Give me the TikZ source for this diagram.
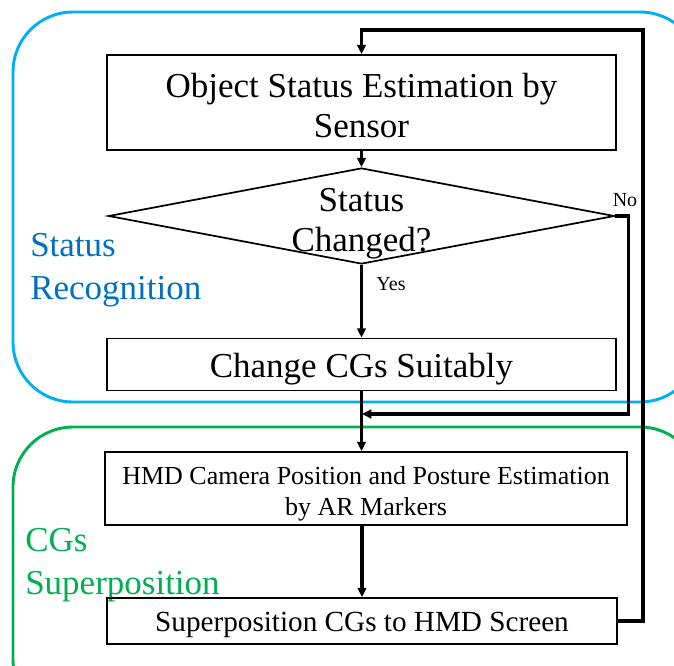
\documentclass[tikz,border=0pt]{standalone}
\usepackage{fontspec}
\setmainfont{Liberation Serif}
\usetikzlibrary{arrows.meta,shapes.geometric}
\definecolor{recogblue}{RGB}{0,176,240}
\definecolor{recogtext}{RGB}{0,112,192}
\definecolor{superpgreen}{RGB}{0,176,80}

\begin{document}
\begin{tikzpicture}[x=0.75pt,y=-0.75pt,
  stepbox/.style={draw, rectangle, line width=1.3pt, inner sep=0pt},
  bigtext/.style={font=\fontsize{26.25}{30}\selectfont, align=center},
  smalltext/.style={font=\fontsize{19.5}{23.5}\selectfont, align=center},
  tagtext/.style={font=\fontsize{15}{18}\selectfont, inner sep=0pt},
  grouptext/.style={font=\fontsize{26.25}{32}\selectfont, anchor=west, align=left, inner sep=0pt},
  flow/.style={line width=2.3pt, -{Triangle[length=7pt,width=6.5pt]}},
  group/.style={line width=2.2pt, rounded corners=45pt}]
\useasboundingbox (0,0) rectangle (674,665);
\clip (0,0) rectangle (674,665);

% the two stages
\draw[group, recogblue] (13,12) rectangle (700,402);
\draw[group, superpgreen] (13,427) rectangle (700,720);
\node[grouptext, recogtext] (recog) at (30,270) {Status\\Recognition};
\node[grouptext, superpgreen] (superp) at (25,565) {CGs\\Superposition};

% steps
\node[stepbox, minimum width=381.75pt, minimum height=71.25pt] (sensor) at (361.5,102.5) {};
\node[bigtext] (sensortext) at (361.5,106) {Object Status Estimation by\\Sensor};
\node[draw, diamond, line width=1.3pt, inner sep=0pt, minimum width=379.5pt, minimum height=72pt] (chg) at (361.5,216) {};
\node[bigtext] (chgtext) at (361.5,224) {Status\\Changed?};
\node[stepbox, minimum width=381.75pt, minimum height=39pt] (cgs) at (361.5,364.5) {};
\node[bigtext] (cgstext) at (361.5,369) {Change CGs Suitably};
\node[stepbox, minimum width=391.5pt, minimum height=54.75pt] (hmd) at (366,488.5) {};
\node[smalltext] (hmdtext) at (366,493.5) {HMD Camera Position and Posture Estimation\\by AR Markers};
\node[stepbox, minimum width=382.5pt, minimum height=34.5pt] (screen) at (362,621) {};
\node[font=\fontsize{21.9}{26}\selectfont] (screentext) at (362,625) {Superposition CGs to HMD Screen};

\node[tagtext] (no) at (625,200) {No};
\node[tagtext] (yes) at (391,284) {Yes};

\coordinate (join) at (362,414);
\coordinate (loop) at (643,30);

\draw[flow] (sensor.south) -- (sensor.south |- chg.north);
\draw[flow] (chg.south) -- (cgs.north);
\draw[flow] (chg.east) -- ++(13,0) |- (join);
\draw[flow] (cgs.south) -- (cgs.south |- hmd.north);
\draw[flow] (hmd.south -| screen.north) -- (screen.north);
\draw[flow] (screen.east) -| (loop) -| (sensor.north);
\end{tikzpicture}
\end{document}
